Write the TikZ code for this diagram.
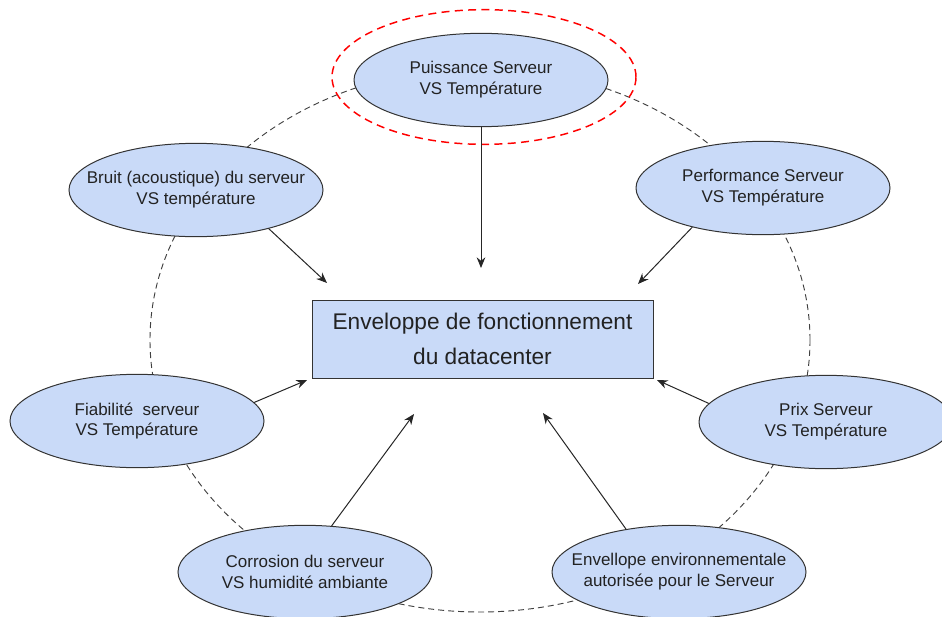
\documentclass[tikz,border=0pt]{standalone}
\usepackage{fontspec}
\setmainfont{Liberation Sans}
\usetikzlibrary{shapes.geometric,arrows.meta}
\definecolor{paleblue}{HTML}{C9DAF8}
\definecolor{inkgray}{HTML}{222222}
\tikzset{
  topic/.style={ellipse,draw=black!80,fill=paleblue,line width=0.75pt,
    minimum width=190.5pt,minimum height=70pt,inner sep=0pt},
  topictext/.style={align=center,text=inkgray,inner sep=0pt,
    font=\fontsize{12.75}{15.75}\selectfont},
  core/.style={rectangle,draw=black!80,fill=paleblue,line width=0.75pt,
    minimum width=255.75pt,minimum height=58.5pt,align=center,text=inkgray,
    font=\fontsize{17}{26}\selectfont},
  link/.style={->,draw=black!85,line width=0.75pt},
  ring/.style={draw=black!75,line width=0.7pt,dash pattern=on 4.5pt off 3pt},
}
\begin{document}
\begin{tikzpicture}[x=0.75pt,y=-0.75pt,>={Stealth[length=8pt,width=6.5pt]}]
  \useasboundingbox (0,0) rectangle (942,617);

  \draw[ring] (480,340) ellipse [x radius=247.5pt,y radius=204pt];
  \draw[red,line width=1.1pt,dash pattern=on 6pt off 4pt] (484,77) ellipse [x radius=114pt,y radius=50.5pt];

  \node[topic] (puis) at (481,80) {};
  \node[topic] (bruit) at (196,190) {};
  \node[topic] (perf) at (763,188) {};
  \node[topic] (fiab) at (137,421) {};
  \node[topic] (prix) at (826,422) {};
  \node[topic] (corr) at (305,572) {};
  \node[topic] (envl) at (679,572) {};

  \node[topictext] (puis-t) at (puis) {Puissance Serveur\\VS Température};
  \node[topictext] (bruit-t) at (bruit) {Bruit (acoustique) du serveur\\VS température};
  \node[topictext] (perf-t) at (perf) {Performance Serveur\\VS Température};
  \node[topictext] (fiab-t) at (fiab) {Fiabilité\ \ serveur\\VS Température};
  \node[topictext] (prix-t) at (prix) {Prix Serveur\\VS Température};
  \node[topictext] (corr-t) at (corr) {Corrosion du serveur\\VS humidité ambiante};
  \node[topictext] (envl-t) at (envl) {Envellope environnementale\\autorisée pour le Serveur};

  \node[core] (env) at (482.5,339) {Enveloppe de fonctionnement\\du datacenter};

  \coordinate (tip1) at (481,268);
  \coordinate (tip2) at (327,283);
  \coordinate (tip3) at (638,284);
  \coordinate (tip4) at (307,380);
  \coordinate (tip5) at (657,380);
  \coordinate (tip6) at (414,414);
  \coordinate (tip7) at (543,413);

  \draw[link] (puis.south) -- (tip1);
  \draw[link] (bruit.-28) -- (tip2);
  \draw[link] (perf.209) -- (tip3);
  \draw[link] (fiab.9) -- (tip4);
  \draw[link] (prix.171) -- (tip5);
  \draw[link] (corr.60) -- (tip6);
  \draw[link] (envl.141) -- (tip7);
\end{tikzpicture}
\end{document}
